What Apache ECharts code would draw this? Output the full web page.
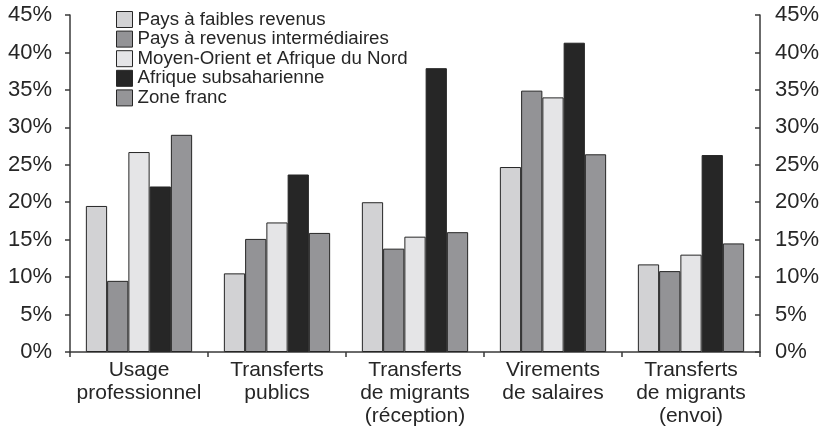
<!DOCTYPE html>
<html>
<head>
<meta charset="utf-8">
<script src="https://cdn.jsdelivr.net/npm/echarts@6/dist/echarts.min.js"></script>
<style>
  html, body { margin: 0; padding: 0; background: #fff; }
  #main { width: 828px; height: 432px; }
</style>
</head>
<body>
<div id="main"></div>
<script>
// catégories et valeurs (en %)
var categories = ['Usage\nprofessionnel', 'Transferts\npublics', 'Transferts\nde migrants\n(réception)', 'Virements\nde salaires', 'Transferts\nde migrants\n(envoi)'];
var faiblesRevenus = [19.5, 10.5, 20.0, 24.7, 11.7];
var revenusInter = [9.5, 15.1, 13.8, 34.9, 10.8];
var moyenOrient = [26.7, 17.3, 15.4, 34.0, 13.0];
var afriqueSub = [22.1, 23.7, 37.9, 41.3, 26.3];
var zoneFranc = [29.0, 15.9, 16.0, 26.4, 14.5];
var yTicks = [0, 45, 5];

var names = ['Pays à faibles revenus', 'Pays à revenus intermédiaires', 'Moyen-Orient et Afrique du Nord', 'Afrique subsaharienne', 'Zone franc'];
var couleurs = ['#d2d2d4', '#939396', '#e5e5e7', '#262626', '#959598'];
var donnees = [faiblesRevenus, revenusInter, moyenOrient, afriqueSub, zoneFranc];

var txt = '#262626';
var font = 'Liberation Sans, Arial, sans-serif';

function axeY(pos) {
    return {
        type: 'value',
        position: pos,
        min: yTicks[0], max: yTicks[1], interval: yTicks[2],
        axisLine: { show: true, lineStyle: { color: '#3a3a3a', width: 1.5 } },
        axisTick: { show: true, inside: pos == 'right', length: 5, lineStyle: { color: '#3a3a3a', width: 1.5 } },
        splitLine: { show: false },
        axisLabel: { formatter: '{value}%', color: txt, fontSize: 22, fontFamily: font, margin: pos == 'right' ? 15 : 18 }
    };
}

var series = [];
for (var i = 0; i < donnees.length; i++) {
    series.push({
        name: names[i],
        type: 'bar',
        data: donnees[i],
        barGap: '0%',
        barCategoryGap: '23%',
        itemStyle: { color: couleurs[i], borderColor: '#262626', borderWidth: 1 }
    });
}

var myChart = echarts.init(document.getElementById('main'));
var option = {
    animation: false,
    backgroundColor: '#fff',
    grid: { left: 70, right: 68, top: 15, bottom: 80, containLabel: false },
    legend: {
        orient: 'vertical',
        left: 111, top: 5,
        itemWidth: 16, itemHeight: 16, itemGap: 0.6,
        icon: 'rect',
        itemStyle: { borderColor: '#262626', borderWidth: 1 },
        textStyle: { color: txt, fontSize: 18.7, fontFamily: font },
        data: names
    },
    xAxis: {
        type: 'category',
        data: categories,
        axisLine: { lineStyle: { color: '#3a3a3a', width: 1.5 } },
        axisTick: { show: true, length: 5, lineStyle: { color: '#3a3a3a', width: 1.5 } },
        axisLabel: { interval: 0, color: txt, fontSize: 21, fontFamily: font, lineHeight: 23, margin: 7 }
    },
    yAxis: [axeY('left'), axeY('right')],
    series: series
};
option && myChart.setOption(option);
</script>
</body>
</html>
